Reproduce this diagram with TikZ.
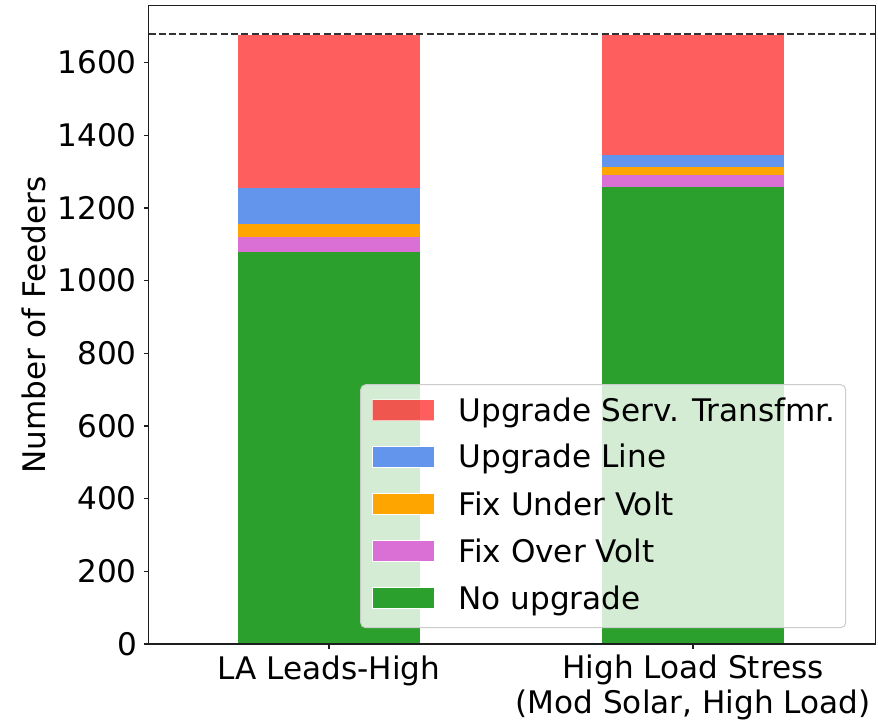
\documentclass[tikz,border=0pt]{standalone}
\usepackage{fontspec}
\setmainfont{DejaVu Sans}
\definecolor{cgreen}{RGB}{44,160,44}
\definecolor{corange}{RGB}{255,165,0}
\definecolor{cblue}{RGB}{100,149,237}
\definecolor{corchid}{RGB}{218,112,214}
\definecolor{cred}{RGB}{255,0,0}
\definecolor{spinec}{RGB}{30,30,30}
\begin{document}
\begin{tikzpicture}[x=1pt,y=-1pt,
  lbl/.style={font=\fontsize{31.1}{36}\selectfont, inner sep=0pt},
  redseg/.style={fill=cred, fill opacity=0.63},
  patch/.style={minimum width=61.4pt, minimum height=21pt, inner sep=0pt, draw=white, line width=0.4pt}
]
\useasboundingbox (0,0) rectangle (878,720);
\fill[white] (0,0) rectangle (878,720);
% bar 1
\fill[cgreen] (237.7,644) rectangle (420.3,251.7);
\fill[corchid] (237.7,251.7) rectangle (420.3,237.3);
\fill[corange] (237.7,237.3) rectangle (420.3,224);
\fill[cblue] (237.7,224) rectangle (420.3,187.7);
\fill[redseg] (237.7,187.7) rectangle (420.3,34.7);
% bar 2
\fill[cgreen] (601.7,644) rectangle (784.3,186.7);
\fill[corchid] (601.7,186.7) rectangle (784.3,175);
\fill[corange] (601.7,175) rectangle (784.3,167);
\fill[cblue] (601.7,167) rectangle (784.3,155.3);
\fill[redseg] (601.7,155.3) rectangle (784.3,34.7);
% total line
\coordinate (tl) at (148.5,34.3);
\coordinate (tr) at (875.7,34.3);
\draw[black!80, line width=2.1pt, dash pattern=on 7pt off 3.3pt] (tl) -- (tr);
% spines
\draw[spinec, line width=1.1pt] (148.5,5.7) rectangle (875.7,644);
% y ticks
\foreach \v in {0,200,...,1600} {
  \pgfmathsetmacro{\yy}{644-\v*0.36333}
  \draw[spinec, line width=1.1pt] (148.5,\yy) -- (143.5,\yy);
  \node[lbl, anchor=base east] (yt\v) at (137,\yy+11) {\v};
}
% x ticks
\draw[spinec, line width=1.1pt] (329,644) -- (329,649);
\draw[spinec, line width=1.1pt] (693,644) -- (693,649);
\node[lbl, anchor=base] (xa) at (329,679) {LA Leads-High};
\node[lbl, anchor=base] (xb1) at (693,678) {High Load Stress};
\node[lbl, anchor=base] (xb2) at (693,713) {(Mod Solar, High Load)};
% y label
\node[lbl, rotate=90, anchor=base] (ylab) at (45,325) {Number of Feeders};
% legend
\filldraw[fill=white, fill opacity=0.8, draw=black!20, line width=1pt, rounded corners=5pt]
  (360.7,384.7) rectangle (845.7,627.7);
\node[patch, fill=cred, fill opacity=0.63, draw opacity=0.63] (p1) at (403,410) {};
\node[patch, fill=cblue] (p2) at (403,456.8) {};
\node[patch, fill=corange] (p3) at (403,504) {};
\node[patch, fill=corchid] (p4) at (403,551) {};
\node[patch, fill=cgreen] (p5) at (403,598) {};
\node[lbl, anchor=base west] (t1) at (458.3,421) {Upgrade Serv. Transfmr.};
\node[lbl, anchor=base west] (t2) at (458.3,467.8) {Upgrade Line};
\node[lbl, anchor=base west] (t3) at (458.3,515) {Fix Under Volt};
\node[lbl, anchor=base west] (t4) at (458.3,562) {Fix Over Volt};
\node[lbl, anchor=base west] (t5) at (458.3,609) {No upgrade};
\end{tikzpicture}
\end{document}
